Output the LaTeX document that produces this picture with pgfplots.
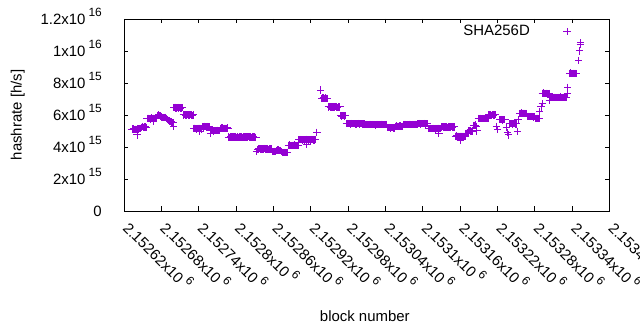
\documentclass[border=0pt]{standalone}
\usepackage{pgfplots}
\pgfplotsset{compat=1.18}
\usepackage{fontspec}
\setmainfont{Liberation Sans}
\definecolor{gpviolet}{RGB}{148,0,211}
\newcommand{\gpfont}{\fontsize{15}{18}\selectfont}
\newcommand{\sexp}[1]{\hspace{0.2em}\raisebox{0.5em}{\fontsize{12}{13}\selectfont #1}}
\begin{document}
\gpfont
\begin{tikzpicture}
\path[use as bounding box] (0,0) rectangle (640bp,330bp);
\begin{axis}[
  at={(124bp,119bp)}, anchor=south west,
  scale only axis, width=485.5bp, height=192bp,
  xmin=2152620, xmax=2153400, ymin=0, ymax=1.2e16,
  scaled x ticks=false, scaled y ticks=false,
  axis line style={line width=0.8bp, black},
  tick align=inside, major tick length=4.5bp,
  every tick/.style={black, line width=0.8bp},
  minor tick num=0,
  xtick={2152620,2152680,2152740,2152800,2152860,2152920,2152980,2153040,2153100,2153160,2153220,2153280,2153340,2153400},
  xticklabels={2.15262x10\sexp{6},2.15268x10\sexp{6},2.15274x10\sexp{6},2.1528x10\sexp{6},2.15286x10\sexp{6},2.15292x10\sexp{6},2.15298x10\sexp{6},2.15304x10\sexp{6},2.1531x10\sexp{6},2.15316x10\sexp{6},2.15322x10\sexp{6},2.15328x10\sexp{6},2.15334x10\sexp{6},2.1534x10\sexp{6}},
  ytick={0,2e15,4e15,6e15,8e15,1e16,1.2e16},
  yticklabels={0\hspace{-6bp},2x10\sexp{15},4x10\sexp{15},6x10\sexp{15},8x10\sexp{15},1x10\sexp{16},1.2x10\sexp{16}},
  xticklabel style={font=\gpfont, inner sep=0pt, xshift=-2bp, yshift=-18bp, rotate=-45, anchor=base west},
  yticklabel style={font=\gpfont, inner sep=0pt, xshift=-22bp, yshift=-5.4bp, anchor=base east},
  xlabel={block number},
  ylabel={hashrate [h/s]},
  xlabel style={font=\gpfont, at={(axis description cs:0.496,-0.547)}, anchor=center},
  ylabel style={font=\gpfont, at={(axis description cs:-0.219,0.5)}, anchor=center},
  legend plot pos=right,
  legend style={font=\gpfont, draw=none, fill=none, inner sep=0pt, outer sep=0pt,
    nodes={inner sep=0pt}, at={(axis description cs:0.699,0.934)}, anchor=west},
  legend image code/.code={\path (0bp,0bp); \draw[mark repeat=2,mark phase=2,#1] plot coordinates {(0bp,0bp) (37bp,0bp) (74bp,0bp)};},
  clip=false,
]
\addplot[only marks, mark=+, color=gpviolet, mark size=3.6bp, mark options={line width=1bp}] coordinates {
(2152633,5.10e15) (2152634,5.12e15) (2152635,5.13e15) (2152636,5.09e15) (2152637,5.08e15) (2152638,5.11e15) (2152639,5.11e15) (2152640,5.09e15) (2152641,5.10e15) (2152641,4.75e15)
(2152642,5.15e15) (2152643,5.13e15) (2152644,5.12e15) (2152645,5.16e15) (2152646,5.17e15) (2152647,5.14e15)
(2152648,5.24e15) (2152649,5.26e15) (2152650,5.27e15) (2152651,5.23e15) (2152652,5.22e15) (2152653,5.25e15) (2152654,5.26e15) (2152655,5.23e15) (2152656,5.24e15)
(2152657,5.78e15) (2152658,5.78e15) (2152659,5.79e15) (2152660,5.80e15) (2152661,5.77e15) (2152662,5.75e15) (2152663,5.79e15) (2152664,5.81e15) (2152665,5.78e15)
(2152666,5.77e15) (2152667,5.80e15) (2152668,5.62e15) (2152668,5.80e15) (2152669,5.78e15) (2152670,5.79e15) (2152671,5.77e15) (2152672,5.76e15) (2152673,5.78e15)
(2152674,5.97e15) (2152675,5.98e15) (2152676,6.00e15) (2152677,5.96e15) (2152678,5.95e15) (2152679,5.93e15)
(2152680,5.90e15) (2152681,5.87e15) (2152682,5.85e15) (2152683,5.84e15) (2152684,5.82e15) (2152685,5.85e15) (2152686,5.86e15) (2152687,5.83e15) (2152688,5.80e15) (2152689,5.78e15)
(2152690,5.70e15) (2152691,5.68e15) (2152692,5.66e15) (2152693,5.63e15) (2152694,5.60e15) (2152695,5.61e15) (2152696,5.58e15) (2152697,5.55e15) (2152698,5.52e15) (2152699,5.50e15) (2152700,5.27e15)
(2152700,6.45e15) (2152701,6.47e15) (2152702,6.48e15) (2152703,6.44e15) (2152704,6.42e15) (2152705,6.44e15) (2152706,6.45e15) (2152707,6.47e15)
(2152708,6.43e15) (2152709,6.45e15) (2152710,6.46e15) (2152711,6.43e15) (2152712,6.44e15) (2152713,6.46e15) (2152714,6.45e15)
(2152715,6.00e15) (2152716,6.00e15) (2152717,6.01e15) (2152718,6.02e15) (2152719,5.99e15) (2152720,5.98e15) (2152721,6.00e15) (2152722,6.01e15) (2152723,6.02e15)
(2152724,5.99e15) (2152725,5.98e15) (2152726,6.00e15) (2152727,6.01e15) (2152728,6.02e15) (2152729,5.99e15) (2152730,5.98e15) (2152731,6.00e15)
(2152732,5.15e15) (2152733,5.17e15) (2152734,5.18e15) (2152735,5.14e15) (2152736,5.12e15) (2152737,5.14e15) (2152738,5.16e15) (2152739,5.17e15)
(2152740,5.14e15) (2152741,5.15e15) (2152742,4.95e15) (2152742,5.17e15) (2152743,5.16e15) (2152744,5.15e15) (2152745,5.13e15)
(2152746,5.27e15) (2152747,5.26e15) (2152748,5.25e15) (2152749,5.28e15) (2152750,5.30e15) (2152751,5.27e15) (2152752,5.26e15) (2152753,5.25e15)
(2152754,5.28e15) (2152755,5.26e15) (2152756,5.24e15) (2152757,5.26e15) (2152758,5.27e15)
(2152759,4.82e15) (2152759,5.03e15) (2152760,5.03e15) (2152761,5.04e15) (2152762,5.05e15) (2152763,5.02e15) (2152764,5.00e15) (2152765,5.02e15) (2152766,5.04e15) (2152767,5.03e15)
(2152768,5.02e15) (2152769,5.04e15) (2152770,5.05e15) (2152771,5.03e15) (2152772,5.01e15) (2152773,5.02e15) (2152774,5.03e15)
(2152775,5.17e15) (2152776,5.17e15) (2152777,5.19e15) (2152778,5.20e15) (2152779,5.17e15) (2152780,5.15e15) (2152781,5.16e15) (2152782,5.18e15)
(2152783,5.17e15) (2152784,5.16e15) (2152785,5.18e15) (2152786,5.19e15) (2152787,5.17e15)
(2152788,4.62e15) (2152789,4.61e15) (2152790,4.60e15) (2152791,4.62e15) (2152792,4.63e15) (2152793,4.62e15) (2152794,4.61e15) (2152795,4.63e15)
(2152796,4.62e15) (2152797,4.63e15) (2152798,4.64e15) (2152799,4.62e15) (2152800,4.60e15) (2152801,4.61e15) (2152802,4.62e15) (2152803,4.62e15)
(2152804,4.61e15) (2152805,4.62e15) (2152806,4.63e15) (2152807,4.62e15) (2152808,4.62e15) (2152809,4.61e15) (2152810,4.60e15) (2152811,4.61e15)
(2152812,4.62e15) (2152813,4.63e15) (2152814,4.63e15) (2152815,4.62e15) (2152816,4.61e15) (2152817,4.62e15) (2152818,4.62e15) (2152819,4.63e15)
(2152820,4.64e15) (2152821,4.62e15) (2152822,4.61e15) (2152823,4.62e15) (2152824,4.62e15) (2152825,4.61e15) (2152826,4.60e15) (2152827,4.62e15)
(2152828,4.63e15) (2152829,4.62e15) (2152830,4.62e15) (2152831,4.61e15) (2152832,4.61e15)
(2152833,3.70e15) (2152835,3.85e15)
(2152836,3.88e15) (2152837,3.89e15) (2152838,3.90e15) (2152839,3.88e15) (2152840,3.86e15) (2152841,3.87e15) (2152842,3.89e15) (2152843,3.88e15)
(2152844,3.87e15) (2152845,3.89e15) (2152846,3.90e15) (2152847,3.87e15) (2152848,3.85e15) (2152849,3.87e15) (2152850,3.88e15) (2152851,3.87e15)
(2152852,3.86e15) (2152853,3.88e15) (2152854,3.89e15) (2152855,3.88e15) (2152856,3.87e15) (2152857,3.88e15)
(2152858,3.72e15) (2152859,3.71e15) (2152860,3.70e15) (2152861,3.72e15) (2152862,3.74e15) (2152863,3.72e15) (2152864,3.71e15) (2152865,3.76e15)
(2152866,3.80e15) (2152867,3.81e15) (2152868,3.82e15) (2152869,3.80e15) (2152870,3.78e15) (2152871,3.79e15) (2152872,3.79e15) (2152873,3.70e15)
(2152874,3.66e15) (2152875,3.65e15) (2152876,3.64e15) (2152877,3.66e15) (2152878,3.68e15) (2152879,3.66e15) (2152880,3.65e15) (2152881,3.66e15) (2152882,3.67e15) (2152883,3.66e15)
(2152884,4.10e15) (2152885,4.11e15) (2152886,4.12e15) (2152887,4.10e15) (2152888,4.08e15) (2152889,4.09e15) (2152890,4.11e15) (2152891,4.10e15) (2152892,4.09e15)
(2152893,4.11e15) (2152894,4.13e15) (2152895,4.11e15) (2152896,4.10e15) (2152897,4.09e15) (2152898,4.08e15) (2152899,4.10e15) (2152900,4.12e15)
(2152901,4.45e15) (2152902,4.45e15) (2152903,4.46e15) (2152904,4.47e15) (2152905,4.45e15) (2152906,4.43e15) (2152907,4.44e15) (2152908,4.46e15) (2152909,4.45e15)
(2152910,4.44e15) (2152911,4.45e15) (2152912,4.45e15) (2152913,4.46e15) (2152914,4.15e15) (2152914,4.48e15) (2152915,4.46e15) (2152916,4.44e15) (2152917,4.45e15)
(2152918,4.46e15) (2152919,4.45e15) (2152920,4.43e15) (2152921,4.45e15) (2152922,4.47e15) (2152923,4.46e15) (2152924,4.45e15) (2152925,4.44e15) (2152926,4.44e15) (2152927,4.45e15)
(2152930,4.93e15)
(2152936,7.56e15)
(2152938,7.05e15) (2152939,7.06e15) (2152940,7.08e15) (2152941,7.05e15) (2152942,7.02e15) (2152943,7.04e15) (2152944,7.06e15) (2152945,7.05e15) (2152946,7.04e15) (2152947,7.05e15)
(2152948,6.50e15) (2152949,6.51e15) (2152950,6.52e15) (2152951,6.50e15) (2152952,6.48e15) (2152953,6.50e15) (2152954,6.51e15) (2152955,6.50e15) (2152956,6.49e15) (2152957,6.50e15)
(2152958,6.50e15) (2152959,6.52e15) (2152960,6.53e15) (2152961,6.50e15) (2152962,6.48e15) (2152963,6.49e15) (2152964,6.50e15) (2152965,6.51e15) (2152966,6.51e15) (2152967,6.50e15)
(2152968,5.95e15) (2152969,5.94e15) (2152970,5.93e15) (2152971,5.95e15) (2152972,5.96e15) (2152973,5.95e15) (2152974,5.94e15) (2152975,5.95e15) (2152976,5.95e15)
(2152977,5.46e15) (2152978,5.47e15) (2152979,5.46e15) (2152980,5.45e15) (2152981,5.45e15) (2152982,5.46e15) (2152983,5.45e15) (2152984,5.44e15) (2152985,5.46e15)
(2152986,5.47e15) (2152987,5.46e15) (2152988,5.45e15) (2152989,5.45e15) (2152990,5.46e15) (2152991,5.45e15) (2152992,5.44e15) (2152993,5.44e15) (2152994,5.45e15)
(2152995,5.46e15) (2152996,5.47e15) (2152997,5.45e15) (2152998,5.44e15) (2152999,5.45e15) (2153000,5.46e15) (2153001,5.46e15) (2153002,5.45e15) (2153003,5.44e15)
(2153004,5.44e15) (2153005,5.45e15) (2153006,5.46e15) (2153007,5.44e15)
(2153008,5.40e15) (2153009,5.40e15) (2153010,5.41e15) (2153011,5.40e15) (2153012,5.39e15) (2153013,5.39e15) (2153014,5.40e15) (2153015,5.41e15) (2153016,5.42e15)
(2153017,5.40e15) (2153018,5.39e15) (2153019,5.40e15) (2153020,5.40e15) (2153021,5.41e15) (2153022,5.41e15) (2153023,5.39e15) (2153024,5.38e15) (2153025,5.39e15)
(2153026,5.40e15) (2153027,5.41e15) (2153028,5.41e15) (2153029,5.40e15) (2153030,5.39e15) (2153031,5.40e15) (2153032,5.40e15) (2153033,5.41e15) (2153034,5.42e15)
(2153035,5.41e15) (2153036,5.40e15) (2153037,5.39e15) (2153038,5.39e15) (2153039,5.40e15) (2153040,5.41e15) (2153041,5.40e15) (2153042,5.40e15)
(2153043,5.20e15) (2153044,5.20e15) (2153045,5.21e15) (2153046,5.22e15) (2153047,5.20e15) (2153048,5.19e15) (2153049,5.20e15) (2153050,5.21e15) (2153051,5.20e15)
(2153052,5.20e15) (2153053,5.19e15) (2153054,5.18e15) (2153055,5.20e15)
(2153056,5.30e15) (2153057,5.30e15) (2153058,5.31e15) (2153059,5.30e15) (2153060,5.29e15) (2153061,5.30e15) (2153062,5.30e15) (2153063,5.31e15) (2153064,5.32e15)
(2153065,5.30e15) (2153066,5.29e15) (2153067,5.30e15) (2153068,5.30e15)
(2153069,5.40e15) (2153070,5.40e15) (2153071,5.41e15) (2153072,5.41e15) (2153073,5.40e15) (2153074,5.39e15) (2153075,5.40e15) (2153076,5.40e15) (2153077,5.41e15)
(2153078,5.42e15) (2153079,5.41e15) (2153080,5.40e15) (2153081,5.40e15) (2153082,5.39e15) (2153083,5.40e15) (2153084,5.41e15) (2153085,5.40e15) (2153086,5.40e15)
(2153087,5.41e15) (2153088,5.42e15) (2153089,5.41e15) (2153090,5.40e15) (2153091,5.40e15)
(2153092,5.45e15) (2153093,5.46e15) (2153094,5.47e15) (2153095,5.45e15) (2153096,5.44e15) (2153097,5.45e15) (2153098,5.46e15) (2153099,5.45e15) (2153100,5.45e15)
(2153101,5.46e15) (2153102,5.47e15) (2153103,5.45e15) (2153104,5.44e15) (2153105,5.45e15) (2153106,5.46e15) (2153107,5.45e15) (2153108,5.45e15)
(2153109,5.15e15) (2153110,5.15e15) (2153111,5.16e15) (2153112,5.17e15) (2153113,5.15e15) (2153114,5.14e15) (2153115,5.15e15) (2153116,5.16e15) (2153117,5.15e15)
(2153118,5.15e15) (2153119,5.14e15) (2153120,5.13e15) (2153121,5.15e15) (2153122,5.16e15) (2153123,5.15e15) (2153124,5.15e15) (2153125,5.16e15) (2153126,4.85e15)
(2153126,5.17e15) (2153127,5.15e15) (2153128,5.14e15) (2153129,5.15e15)
(2153130,5.25e15) (2153131,5.26e15) (2153132,5.27e15) (2153133,5.25e15) (2153134,5.24e15) (2153135,5.25e15) (2153136,5.26e15) (2153137,5.25e15) (2153138,5.25e15)
(2153139,5.24e15) (2153140,5.23e15) (2153141,5.25e15) (2153142,5.26e15) (2153143,5.25e15) (2153144,5.25e15) (2153145,5.26e15) (2153146,5.27e15) (2153147,5.25e15)
(2153148,5.24e15) (2153149,5.25e15) (2153150,5.25e15) (2153151,5.25e15)
(2153152,4.67e15) (2153153,4.68e15) (2153154,4.69e15) (2153155,4.67e15) (2153156,4.66e15) (2153157,4.67e15) (2153158,4.68e15) (2153159,4.67e15) (2153160,4.40e15)
(2153160,4.67e15) (2153161,4.66e15) (2153162,4.65e15) (2153163,4.67e15) (2153164,4.68e15) (2153165,4.67e15) (2153166,4.66e15) (2153167,4.67e15) (2153168,4.67e15)
(2153169,4.85e15) (2153170,4.85e15) (2153171,4.86e15) (2153172,4.87e15) (2153173,4.85e15)
(2153174,5.00e15) (2153175,5.01e15) (2153176,5.02e15) (2153177,5.00e15) (2153178,4.98e15) (2153179,4.99e15) (2153180,5.00e15)
(2153181,5.35e15) (2153182,5.35e15) (2153183,5.36e15) (2153184,5.37e15) (2153185,5.34e15) (2153186,5.30e15) (2153187,5.00e15)
(2153189,5.78e15) (2153190,5.78e15) (2153191,5.79e15) (2153192,5.80e15) (2153193,5.78e15) (2153194,5.76e15) (2153195,5.77e15) (2153196,5.79e15) (2153197,5.78e15)
(2153198,5.77e15) (2153199,5.78e15) (2153200,5.80e15) (2153201,5.79e15) (2153202,5.78e15) (2153203,5.77e15) (2153204,5.76e15) (2153205,5.78e15)
(2153206,6.00e15) (2153207,6.01e15) (2153208,6.02e15) (2153209,6.00e15) (2153210,5.98e15) (2153211,5.99e15) (2153212,6.01e15) (2153213,6.00e15) (2153214,5.99e15)
(2153215,6.00e15) (2153216,6.00e15) (2153217,6.01e15)
(2153218,5.30e15) (2153220,5.10e15)
(2153224,5.70e15) (2153225,5.71e15) (2153226,5.72e15) (2153227,5.70e15) (2153228,5.69e15) (2153229,5.70e15) (2153230,5.71e15) (2153231,5.70e15) (2153232,5.70e15)
(2153234,5.20e15) (2153236,4.90e15) (2153238,4.75e15)
(2153240,5.45e15) (2153241,5.46e15) (2153242,5.47e15) (2153243,5.45e15) (2153244,5.44e15) (2153245,5.45e15) (2153246,5.46e15) (2153247,5.45e15) (2153248,5.45e15)
(2153249,5.44e15) (2153250,5.44e15) (2153251,5.45e15) (2153252,4.97e15) (2153253,5.70e15)
(2153256,6.10e15) (2153257,6.11e15) (2153258,6.12e15) (2153259,6.10e15) (2153260,6.09e15) (2153261,6.10e15) (2153262,6.11e15) (2153263,6.10e15) (2153264,6.10e15)
(2153265,6.09e15) (2153266,6.08e15) (2153267,6.10e15)
(2153268,5.90e15) (2153269,5.91e15) (2153270,5.92e15) (2153271,5.90e15) (2153272,5.89e15) (2153273,5.90e15) (2153274,5.91e15) (2153275,5.90e15) (2153276,5.90e15)
(2153277,5.89e15) (2153278,5.88e15) (2153279,5.89e15) (2153280,5.90e15)
(2153281,5.78e15) (2153282,5.78e15) (2153283,5.79e15) (2153284,5.80e15) (2153285,5.78e15) (2153286,5.76e15) (2153287,5.77e15)
(2153288,6.20e15) (2153290,6.50e15) (2153292,6.70e15)
(2153292,7.35e15) (2153293,7.36e15) (2153294,7.37e15) (2153295,7.35e15) (2153296,7.34e15) (2153297,7.35e15) (2153298,7.36e15) (2153299,7.35e15) (2153300,7.35e15)
(2153301,7.34e15) (2153302,7.33e15) (2153303,7.34e15) (2153304,7.35e15) (2153303,6.90e15)
(2153305,7.10e15) (2153306,7.10e15) (2153307,7.11e15) (2153308,7.12e15) (2153309,7.10e15) (2153310,7.09e15) (2153311,7.10e15) (2153312,7.11e15) (2153313,7.10e15)
(2153314,7.10e15) (2153315,7.09e15) (2153316,7.08e15) (2153317,7.10e15) (2153318,7.11e15) (2153319,7.10e15) (2153320,7.10e15) (2153321,7.11e15) (2153322,7.12e15)
(2153323,7.10e15) (2153324,7.09e15) (2153325,7.10e15) (2153326,7.10e15) (2153327,7.11e15) (2153328,7.11e15) (2153329,7.10e15) (2153330,7.10e15) (2153331,7.10e15)
(2153332,7.35e15) (2153333,7.73e15)
(2153336,8.60e15) (2153337,8.61e15) (2153338,8.62e15) (2153339,8.60e15) (2153340,8.58e15) (2153341,8.59e15) (2153342,8.61e15) (2153343,8.60e15) (2153344,8.60e15)
(2153345,8.60e15) (2153346,8.59e15) (2153347,8.60e15)
(2153350,9.40e15) (2153352,1.000e16) (2153353,1.040e16) (2153354,1.050e16)
};
\addlegendentry{SHA256D}
\end{axis}
\end{tikzpicture}
\end{document}
